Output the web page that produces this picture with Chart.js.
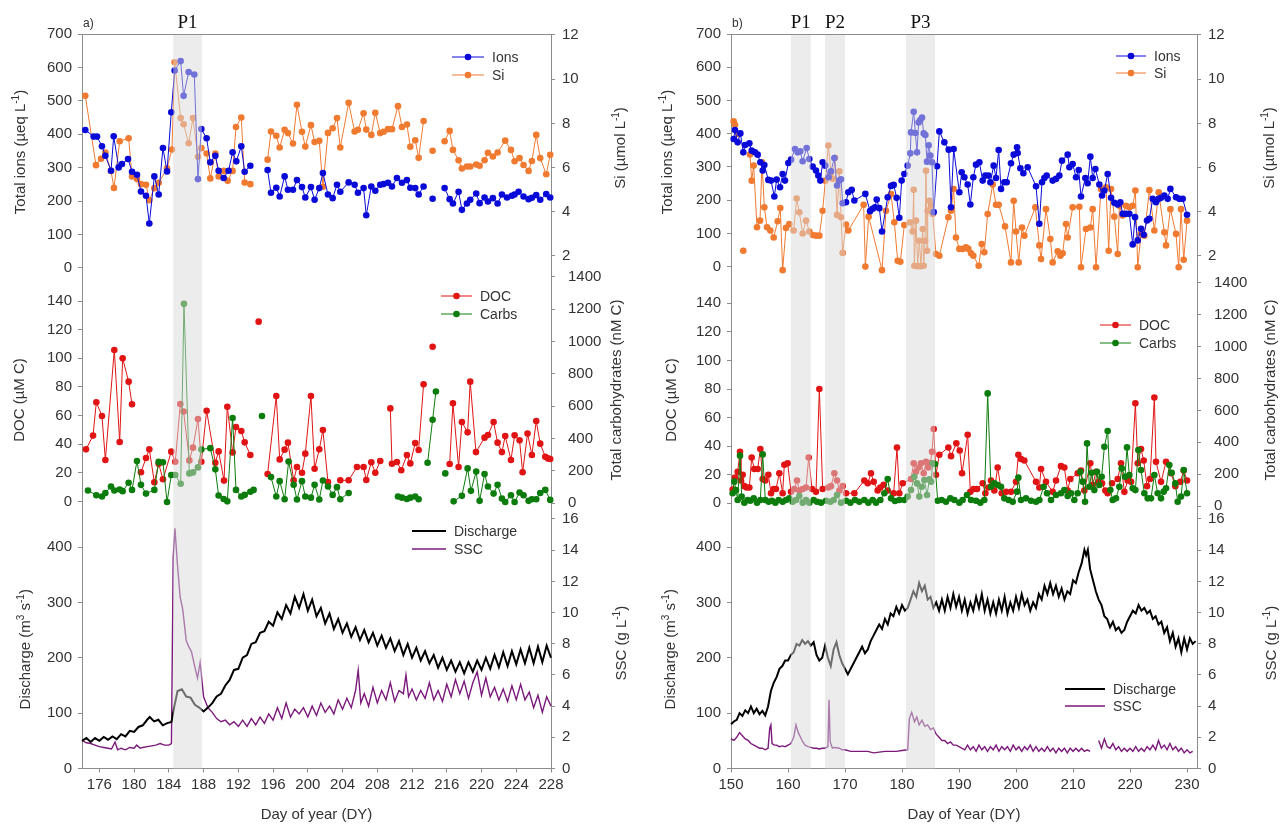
<!DOCTYPE html>
<html>
<head>
<meta charset="utf-8">
<script src="https://cdn.jsdelivr.net/npm/chart.js@4.4.1/dist/chart.umd.min.js"></script>
<style>
  body { margin: 0; background: #fff; width: 1284px; height: 828px; overflow: hidden; position: relative; }
  .panel { position: absolute; top: 0; height: 828px; }
</style>
</head>
<body>
<div class="panel" style="left:0;width:645px"><canvas id="chartA"></canvas></div>
<div class="panel" style="left:645px;width:639px"><canvas id="chartB"></canvas></div>
<script>
// ---- tick labels ----
const ionTicks = [0, 100, 200, 300, 400, 500, 600, 700];
const docTicks = [0, 20, 40, 60, 80, 100, 120, 140];
const qTicks = [0, 100, 200, 300, 400];
const siTicks = [2, 4, 6, 8, 10, 12];
const carbTicks = [0, 200, 400, 600, 800, 1000, 1200, 1400];
const sscTicks = [0, 2, 4, 6, 8, 10, 12, 14, 16];
const dayTicksA = [176, 180, 184, 188, 192, 196, 200, 204, 208, 212, 216, 220, 224, 228];
const dayTicksB = [150, 160, 170, 180, 190, 200, 210, 220, 230];

// ---- shaded periods ----
const bandsA = [[184.5, 187.8]];
const bandNamesA = ['P1'];
const bandsB = [[160.5, 164.0], [166.5, 170.0], [180.7, 185.8]];
const bandNamesB = ['P1', 'P2', 'P3'];

// ---- panel a: [day, value] ----
const ionsA = [[174.38,413],[175.34,393],[175.73,393],[176.30,364],[176.69,336],[177.34,291],[177.65,394],[178.22,301],[178.60,311],[179.30,326],[179.76,288],[180.33,279],[180.79,229],[181.37,216],[181.75,133],[182.33,274],[182.83,220],[183.32,359],[183.79,289],[184.28,466],[184.67,591],[185.36,619],[185.70,515],[186.28,586],[186.93,579],[187.35,266],[187.74,416],[188.35,388],[188.77,316],[189.35,336],[189.73,291],[190.31,269],[190.88,291],[191.34,346],[191.77,319],[192.34,364],[192.73,288],[193.38,306],[194.4,null],
  [195.37,293],[195.76,225],[196.37,240],[196.76,214],[197.33,274],[197.71,234],[198.29,234],[198.75,263],[199.33,242],[199.71,211],[200.36,242],[200.78,204],[201.32,239],[201.74,284],[202.32,220],[202.86,209],[203.36,249],[203.74,228],[204.70,256],[205.39,249],[205.77,225],[206.42,239],[206.73,158],[207.31,244],[207.77,231],[208.34,249],[208.73,251],[209.23,255],[209.69,244],[210.26,269],[210.84,255],[211.41,263],[211.80,240],[212.37,239],[212.76,220],[213.33,244],[213.8,null],
  [214.37,207],[215.0,null],
  [215.75,239],[216.33,206],[216.71,193],[217.36,228],[217.74,174],[218.32,193],[218.70,204],[219.39,223],[219.78,194],[220.35,211],[220.74,199],[221.31,209],[221.85,193],[222.35,220],[222.93,211],[223.50,216],[223.81,220],[224.27,228],[224.84,214],[225.42,206],[225.80,210],[226.30,218],[226.76,204],[227.45,221],[227.91,211]];
const siA = [[174.38,9.25],[175.61,6.11],[176.19,6.40],[176.69,6.68],[177.34,5.85],[177.68,5.08],[178.34,7.19],[179.37,7.33],[179.76,5.60],[180.33,5.48],[180.79,5.25],[181.37,5.22],[181.75,4.52],[182.33,5.07],[182.83,5.31],[183.79,5.97],[184.36,6.82],[184.67,10.77],[185.36,8.24],[185.70,7.96],[186.28,7.10],[186.78,8.24],[187.35,6.49],[187.74,6.88],[188.35,6.64],[188.77,5.51],[189.35,6.64],[189.73,5.60],[190.31,5.85],[190.77,5.40],[191.34,5.85],[191.73,7.84],[192.34,8.27],[192.73,5.32],[193.38,5.25],[194.4,null],
  [195.37,6.36],[195.76,7.63],[196.37,7.44],[196.76,6.91],[197.33,7.71],[197.71,7.56],[198.29,7.09],[198.75,8.84],[199.33,7.62],[199.71,6.95],[200.36,7.92],[200.78,7.16],[201.32,7.21],[201.74,5.13],[202.32,7.57],[202.86,7.78],[203.36,8.24],[203.74,6.91],[204.70,8.93],[205.39,7.63],[205.77,7.71],[206.42,8.46],[206.73,7.72],[207.31,7.48],[207.77,8.48],[208.34,7.56],[208.73,7.62],[209.23,7.74],[209.69,7.74],[210.38,8.78],[210.84,7.84],[211.41,7.95],[211.80,6.94],[212.37,7.24],[212.76,6.44],[213.33,8.11],[213.8,null],
  [214.37,6.76],[215.0,null],
  [215.75,7.19],[216.33,7.66],[216.71,6.80],[217.36,6.33],[217.74,5.96],[218.32,6.05],[218.70,6.05],[219.39,6.14],[219.78,6.08],[220.35,6.33],[220.74,6.67],[221.31,6.50],[221.85,6.68],[222.73,7.22],[223.39,6.80],[223.81,6.29],[224.38,6.43],[224.84,6.12],[225.42,5.85],[225.80,6.30],[226.30,7.48],[226.76,6.43],[227.45,5.70],[227.91,6.58]];
const docA = [[174.46,36.4],[175.27,46.0],[175.65,69.3],[176.30,59.7],[176.69,29.0],[177.72,105.8],[178.34,41.6],[178.68,100.0],[179.37,83.7],[179.76,67.9],[180.2,null],
  [180.79,20.4],[181.37,30.4],[181.75,36.4],[182.33,13.4],[182.83,26.4],[183.32,15.5],[184.28,34.8],[184.74,27.8],[185.32,68.1],[185.70,62.8],[186.36,28.7],[186.78,37.6],[187.35,57.6],[187.74,27.8],[188.35,63.4],[189.35,27.1],[189.73,35.0],[190.35,14.6],[190.73,66.2],[191.34,34.3],[191.73,52.0],[192.34,49.2],[192.73,41.3],[193.38,32.5],[193.9,null],
  [194.34,125.6],[194.9,null],
  [195.37,19.2],[196.37,73.7],[196.76,29.4],[197.33,36.2],[197.71,41.1],[198.37,14.8],[198.75,24.1],[199.33,20.1],[199.71,33.4],[200.36,73.7],[200.78,22.9],[201.32,36.4],[201.74,49.9],[202.32,13.6],[203.0,null],
  [203.74,14.8],[204.70,14.8],[205.66,24.1],[206.42,24.1],[206.73,15.0],[207.31,27.4],[207.77,20.1],[208.34,28.3],[208.9,null],
  [209.50,65.0],[209.69,26.4],[210.26,27.6],[210.76,21.8],[211.41,32.5],[211.80,26.6],[212.37,40.9],[212.76,36.0],[213.33,81.8],[213.8,null],
  [214.37,108.1],[215.0,null],
  [216.33,26.2],[216.71,68.6],[217.36,24.1],[217.74,55.5],[218.40,48.3],[218.70,83.7],[219.36,34.5],[220.35,44.6],[220.74,46.4],[221.39,55.5],[221.85,41.1],[222.35,34.5],[222.73,45.7],[223.39,29.0],[223.81,46.2],[224.38,42.7],[224.73,20.4],[225.30,47.4],[225.80,32.5],[226.30,56.2],[226.76,40.4],[227.34,31.3],[227.65,30.1],[227.91,29.7]];
const carbsA = [[174.69,79],[175.65,50],[176.30,42],[176.69,64],[177.34,104],[177.72,79],[178.34,85],[178.68,75],[179.37,127],[179.76,83],[180.33,262],[180.79,114],[181.37,60],[182.33,83],[182.83,256],[183.32,254],[183.79,8],[184.28,175],[184.74,175],[185.36,121],[185.74,1234],[186.36,185],[186.78,191],[187.35,222],[187.74,333],[188.77,341],[189.35,210],[189.73,48],[190.31,27],[190.73,12],[191.34,528],[191.73,83],[192.34,42],[192.73,52],[193.38,71],[193.76,83],[194.2,null],
  [194.72,540],[195.3,null],
  [195.76,162],[196.37,42],[196.76,137],[197.33,25],[197.79,258],[198.37,114],[198.75,23],[199.33,137],[199.71,42],[200.36,35],[200.78,114],[201.32,23],[201.74,141],[202.32,104],[202.86,52],[203.36,100],[203.74,25],[204.70,64],[207.0,null],
  [210.38,42],[210.84,35],[211.41,27],[211.80,35],[212.37,42],[212.76,25],[213.2,null],
  [213.79,251],[214.37,517],[214.75,692],[215.3,null],
  [215.83,185],[216.3,null],
  [216.79,12],[217.74,46],[218.40,216],[218.78,77],[219.39,197],[219.78,15],[220.35,181],[220.74,104],[221.39,60],[221.85,114],[222.35,29],[222.73,8],[223.39,50],[223.81,8],[224.38,67],[224.84,50],[225.42,15],[225.80,25],[226.30,25],[226.76,64],[227.34,83],[227.91,21]];
const dischargeA = [[174.0,50],[174.5,55],[175.0,48],[175.5,55],[176.0,50],[176.5,57],[177.0,52],[177.5,58],[178.0,53],[178.5,62],[179.0,58],[179.5,68],[180.0,66],[180.5,75],[181.0,78],[181.5,88],[181.8,93],[182.3,85],[182.8,88],[183.3,78],[183.8,82],[184.3,84],[184.6,110],[185.0,140],[185.5,143],[186.0,130],[186.5,128],[187.0,115],[187.5,110],[188.0,103],[188.5,110],[189.0,118],[189.5,130],[190.0,135],[190.5,150],[191.0,160],[191.5,178],[192.0,180],[192.5,200],[193.0,205],[193.5,225],[194.0,228],[194.5,245],[195.0,248],[195.5,265],[196.0,258],[196.5,282],[197.0,270],[197.5,295],[198.0,280],[198.5,310],[199.0,290],[199.5,315],[200.0,285],[200.5,305],[201.0,275],[201.5,290],[202.0,262],[202.5,280],[203.0,252],[203.5,270],[204.0,245],[204.5,262],[205.0,238],[205.5,255],[206.0,232],[206.5,250],[207.0,228],[207.5,245],[208.0,222],[208.5,240],[209.0,218],[209.5,235],[210.0,212],[210.5,230],[211.0,205],[211.5,225],[212.0,200],[212.5,218],[213.0,195],[213.5,212],[214.0,190],[214.5,205],[215.0,182],[215.5,200],[216.0,178],[216.5,195],[217.0,175],[217.5,192],[218.0,172],[218.5,192],[219.0,175],[219.5,195],[220.0,178],[220.5,200],[221.0,180],[221.5,205],[222.0,183],[222.5,210],[223.0,185],[223.5,212],[224.0,188],[224.5,215],[225.0,190],[225.5,218],[226.0,190],[226.5,220],[227.0,192],[227.5,222],[228.0,200]];
const sscA = [[174.0,1.8],[174.5,1.65],[175.0,1.6],[175.5,1.5],[176.0,1.4],[176.5,1.35],[177.0,1.3],[177.4,1.25],[177.8,1.7],[178.1,1.2],[178.5,1.3],[179.0,1.2],[179.5,1.35],[180.0,1.3],[180.3,1.5],[180.7,1.3],[181.0,1.35],[181.5,1.4],[182.0,1.45],[182.5,1.5],[183.0,1.6],[183.5,1.5],[184.0,1.5],[184.3,1.6],[184.5,13.5],[184.7,15.4],[185.0,13.0],[185.3,11.0],[185.6,10.2],[186.0,8.2],[186.3,7.8],[186.6,7.5],[187.0,6.5],[187.3,5.8],[187.6,6.8],[188.0,4.6],[188.5,3.9],[189.0,3.6],[189.5,3.2],[190.0,3.0],[190.5,3.1],[191.0,2.8],[191.5,3.0],[192.0,2.7],[192.5,3.1],[193.0,2.7],[193.5,3.2],[194.0,2.8],[194.5,3.3],[195.0,2.9],[195.5,3.5],[196.0,3.1],[196.5,3.9],[197.0,3.2],[197.5,4.2],[198.0,3.3],[198.5,3.8],[199.0,3.5],[199.5,3.9],[200.0,3.3],[200.5,4.0],[201.0,3.4],[201.5,4.2],[202.0,3.6],[202.5,4.0],[203.0,3.5],[203.5,4.4],[204.0,3.8],[204.5,4.5],[205.0,3.9],[205.5,5.0],[205.8,6.3],[206.1,4.2],[206.5,4.8],[207.0,4.0],[207.5,5.2],[208.0,4.2],[208.5,5.0],[209.0,4.4],[209.5,5.5],[210.0,4.3],[210.5,5.0],[211.0,4.8],[211.3,6.0],[211.6,4.6],[212.0,5.1],[212.5,4.4],[213.0,5.0],[213.5,4.5],[214.0,5.5],[214.5,4.4],[215.0,5.0],[215.5,4.3],[216.0,5.4],[216.5,4.6],[217.0,5.7],[217.5,4.8],[218.0,5.6],[218.5,4.5],[219.0,5.5],[219.5,6.2],[220.0,4.7],[220.5,5.8],[221.0,4.6],[221.5,5.2],[222.0,4.4],[222.5,5.1],[223.0,4.3],[223.5,5.3],[224.0,4.4],[224.5,5.4],[225.0,4.4],[225.5,4.9],[226.0,3.9],[226.5,4.7],[227.0,3.6],[227.5,4.6],[228.0,4.0]];

// ---- panel b: [day, value] ----
const ionsB = [[150.47,384],[150.70,411],[151.17,374],[151.64,401],[152.16,344],[152.46,366],[153.22,371],[153.63,349],[154.21,344],[154.68,337],[155.15,314],[155.56,289],[155.85,306],[156.55,261],[157.02,259],[157.60,211],[158.01,262],[158.60,239],[159.06,279],[159.47,259],[160.06,312],[160.53,322],[161.23,354],[161.70,344],[162.16,347],[162.57,317],[163.27,357],[163.74,324],[164.33,301],[164.91,289],[165.32,274],[165.67,259],[166.08,314],[166.55,304],[167.13,269],[167.54,287],[168.13,327],[168.60,244],[169.01,259],[169.30,263],[169.59,191],[170.18,194],[170.58,224],[171.17,231],[171.64,199],[173.57,219],[174.39,167],[174.85,174],[175.26,179],[175.56,202],[176.02,176],[176.49,106],[177.49,209],[178.07,243],[178.54,246],[179.06,207],[179.53,147],[179.94,259],[180.41,279],[180.99,304],[181.46,341],[181.58,404],[182.05,466],[182.34,402],[182.63,344],[182.92,434],[183.22,441],[183.51,449],[183.80,401],[184.09,396],[184.39,316],[184.68,365],[184.97,334],[185.26,314],[185.56,164],[186.14,302],[186.55,407],[187.43,374],[188.19,352],[188.60,179],[189.06,354],[190.06,224],[190.47,284],[190.94,269],[191.52,247],[191.99,187],[192.51,269],[192.98,307],[193.57,314],[194.15,259],[194.62,274],[195.15,274],[195.50,254],[196.08,304],[196.49,267],[196.96,351],[197.37,234],[197.95,254],[198.36,254],[199.12,311],[199.59,337],[200.18,359],[200.29,342],[200.76,296],[201.29,281],[202.05,299],[203.51,242],[204.09,129],[204.56,254],[204.97,267],[205.38,274],[206.43,259],[207.02,264],[207.60,274],[208.07,319],[209.06,337],[209.36,299],[209.94,309],[210.53,269],[211.00,291],[211.40,211],[212.16,267],[212.57,251],[213.04,331],[213.45,267],[213.92,294],[214.62,247],[215.09,214],[215.50,229],[216.08,279],[216.67,207],[217.25,192],[217.84,187],[218.30,194],[218.71,159],[219.30,159],[219.88,159],[220.47,67],[220.88,149],[221.35,79],[221.93,114],[222.40,96],[222.98,139],[223.39,144],[223.98,204],[224.56,194],[225.03,204],[225.44,207],[226.02,214],[226.61,204],[227.08,234],[228.07,209],[228.65,204],[229.24,204],[230.00,156]];
const siB = [[150.47,8.09],[150.70,7.94],[151.29,7.52],[151.8,null],[152.16,2.24],[152.7,null],[153.33,6.59],[153.63,5.41],[153.98,6.09],[154.56,3.30],[155.09,3.60],[155.44,6.24],[155.85,4.20],[156.32,3.30],[156.90,3.15],[157.49,2.84],[158.19,3.57],[158.65,4.17],[159.06,1.36],[159.65,3.27],[160.23,3.44],[160.99,3.15],[161.52,4.60],[161.99,3.98],[162.57,3.02],[163.16,3.60],[163.74,3.11],[164.33,2.95],[164.91,2.92],[165.50,2.92],[166.08,4.05],[166.55,5.41],[167.08,7.00],[167.54,5.79],[167.84,5.49],[168.25,6.44],[168.60,3.86],[169.01,5.83],[169.30,3.75],[169.59,2.14],[170.18,3.42],[170.58,3.15],[173.27,4.32],[173.57,1.52],[174.15,3.78],[176.49,1.36],[177.19,4.05],[178.07,4.80],[178.65,3.53],[179.24,1.78],[179.71,1.74],[180.41,3.40],[181.40,3.53],[181.87,3.11],[182.05,5.00],[182.16,1.56],[182.46,3.60],[182.75,1.54],[183.04,2.69],[183.33,1.54],[183.63,3.22],[183.80,1.56],[184.04,2.69],[184.21,5.86],[184.39,2.24],[184.50,4.05],[184.80,4.50],[185.09,4.27],[185.38,3.90],[185.96,2.09],[186.55,2.01],[188.13,3.75],[188.60,4.05],[189.06,5.03],[189.47,2.84],[190.06,2.32],[190.64,2.32],[191.23,2.39],[191.64,2.32],[192.11,2.12],[192.51,2.01],[193.45,1.56],[193.98,2.54],[194.44,2.17],[195.03,3.90],[195.91,5.23],[196.49,4.32],[196.96,4.32],[198.07,3.34],[199.12,1.71],[199.59,4.50],[200.00,3.11],[200.47,1.71],[201.05,3.29],[201.46,2.92],[203.39,4.20],[204.09,2.48],[204.39,1.86],[205.26,4.12],[206.02,2.77],[206.43,1.71],[207.31,2.21],[207.78,2.01],[208.19,2.12],[208.77,3.45],[209.06,2.84],[209.94,4.20],[211.11,4.23],[211.40,1.49],[212.28,3.22],[213.04,3.29],[213.45,4.12],[214.04,1.49],[214.91,5.03],[215.79,5.11],[216.26,2.24],[216.67,5.03],[217.25,3.78],[217.84,2.09],[218.13,4.27],[218.71,3.83],[219.30,4.27],[219.88,4.20],[220.47,4.27],[220.94,4.96],[221.35,1.49],[221.93,3.02],[222.51,2.92],[223.39,4.98],[224.27,3.15],[225.03,4.88],[226.02,3.07],[226.32,2.48],[227.08,4.12],[228.07,3.00],[228.54,1.49],[228.95,4.12],[229.42,1.83],[230.00,3.60]];
const docB = [[150.29,9.6],[150.70,18],[151.17,22],[151.58,36],[151.75,16],[152.05,20],[152.34,12],[152.75,11],[153.22,11],[153.63,32],[154.09,24],[154.68,24],[155.15,38],[155.56,17],[156.02,16],[156.55,20],[157.02,7],[157.49,10],[157.89,10],[158.48,21],[159.06,7],[159.36,27],[159.94,28],[160.53,8],[161.11,10],[161.58,16],[161.99,9],[162.57,10],[163.16,11],[163.63,32],[164.21,10],[164.91,8],[165.50,80],[166.08,10],[167.08,11],[167.54,12],[168.13,21],[168.60,16],[169.01,9],[169.59,12],[170.18,7],[171.64,7],[173.39,16],[173.98,14],[174.56,21],[175.03,15],[175.73,9],[176.20,11],[176.78,13],[177.49,9],[178.54,7],[179.12,39],[179.53,7],[180.12,14],[181.58,17],[182.05,28],[182.46,22],[182.92,25],[183.33,28],[183.80,21],[184.21,29],[184.62,25],[184.97,28],[185.26,36],[185.56,52],[185.96,20],[186.55,34],[188.13,39],[188.60,33],[189.53,42],[190.12,37],[190.53,21],[191.52,48],[191.99,8],[192.57,10],[193.16,10],[194.15,14],[194.62,7],[195.15,11],[195.61,16],[196.20,9],[196.78,25],[197.49,7],[198.25,8],[199.12,8],[200.00,15],[200.41,34],[200.88,31],[201.46,30],[203.51,15],[204.09,11],[204.39,24],[205.26,15],[206.43,8],[207.02,16],[207.89,26],[208.48,25],[209.06,9],[209.53,17],[210.82,21],[211.40,23],[211.99,9],[213.04,28],[213.45,13],[214.04,22],[214.50,15],[215.09,14],[215.67,9],[216.08,7],[216.84,14],[217.84,17],[218.42,28],[219.01,8],[219.59,16],[220.18,15],[220.94,70],[221.35,28],[221.93,38],[222.40,30],[222.98,12],[223.51,17],[224.27,74],[224.56,29],[225.44,15],[226.32,29],[227.19,21],[227.95,12],[228.83,15],[229.42,23],[230.00,16]];
const carbsB = [[150.29,80],[150.58,153],[150.88,100],[151.17,38],[151.58,316],[151.87,59],[152.34,21],[152.92,38],[153.39,33],[153.98,48],[154.56,21],[155.15,38],[155.56,324],[156.02,38],[156.61,27],[157.19,33],[157.78,21],[158.36,38],[159.06,27],[159.65,38],[160.23,48],[160.82,27],[161.40,38],[161.99,63],[162.57,21],[163.16,38],[163.74,21],[164.50,38],[165.09,27],[165.79,21],[166.67,33],[167.43,27],[168.01,38],[168.60,69],[169.30,21],[170.18,33],[170.94,21],[171.75,38],[172.51,27],[173.39,38],[174.09,21],[174.85,38],[175.44,21],[176.20,38],[176.90,80],[177.49,169],[178.07,48],[178.77,31],[179.53,38],[180.41,38],[180.99,59],[181.58,100],[182.16,184],[182.63,142],[183.04,59],[183.45,121],[183.92,163],[184.39,69],[184.80,167],[185.09,153],[185.38,268],[185.79,264],[186.26,33],[186.96,38],[187.72,27],[188.48,48],[189.18,38],[190.06,21],[190.64,38],[191.40,69],[192.11,38],[192.98,33],[193.74,21],[194.44,38],[195.03,707],[195.61,121],[196.20,142],[196.78,132],[197.37,121],[197.95,48],[198.71,38],[199.42,27],[200.18,90],[200.41,178],[200.88,38],[201.75,48],[202.63,33],[203.51,27],[204.09,38],[204.85,121],[205.44,80],[206.14,38],[207.02,69],[207.89,80],[208.48,100],[209.06,63],[209.65,80],[210.23,38],[210.82,80],[211.29,215],[211.70,153],[212.11,27],[212.46,393],[212.87,121],[213.27,209],[213.74,100],[214.21,215],[214.62,132],[215.03,184],[215.50,372],[216.08,471],[216.55,100],[216.96,38],[217.54,48],[218.13,121],[218.54,236],[219.12,184],[219.47,368],[219.88,195],[220.47,111],[220.94,100],[221.46,351],[221.93,226],[222.51,80],[223.10,48],[223.68,48],[224.27,195],[224.85,80],[225.44,48],[225.91,90],[226.32,111],[226.90,257],[227.31,209],[227.95,142],[228.36,27],[228.95,59],[229.42,226],[230.00,80]];
const dischargeB = [[150.0,80],[150.5,85],[151.0,88],[151.5,100],[152.0,95],[152.5,105],[153.0,100],[153.5,112],[154.0,100],[154.5,108],[155.0,98],[155.5,104],[156.0,96],[156.5,112],[157.0,140],[157.5,155],[158.0,165],[158.5,180],[159.0,185],[159.5,195],[160.0,195],[160.5,205],[161.0,210],[161.5,225],[162.0,222],[162.5,232],[163.0,225],[163.5,230],[164.0,222],[164.5,228],[165.0,205],[165.5,195],[166.0,200],[166.5,222],[167.0,200],[167.5,185],[168.0,215],[168.5,228],[169.0,205],[169.5,190],[170.0,180],[170.5,170],[171.0,180],[171.5,190],[172.0,200],[172.5,210],[173.0,220],[173.5,208],[174.0,215],[174.5,230],[175.0,240],[175.5,250],[176.0,260],[176.5,252],[177.0,270],[177.5,260],[178.0,280],[178.5,275],[179.0,292],[179.5,280],[180.0,295],[180.5,285],[181.0,290],[181.5,305],[182.0,320],[182.5,310],[183.0,335],[183.5,320],[184.0,330],[184.5,305],[185.0,310],[185.5,290],[186.0,300],[186.5,285],[187.0,305],[187.5,285],[188.0,310],[188.5,290],[189.0,315],[189.5,292],[190.0,310],[190.5,285],[191.0,305],[191.5,280],[192.0,300],[192.5,285],[193.0,310],[193.5,290],[194.0,315],[194.5,285],[195.0,305],[195.5,280],[196.0,300],[196.5,280],[197.0,305],[197.5,285],[198.0,310],[198.5,280],[199.0,300],[199.5,285],[200.0,310],[200.5,290],[201.0,315],[201.5,295],[202.0,305],[202.5,285],[203.0,300],[203.5,290],[204.0,315],[204.5,305],[205.0,330],[205.5,315],[206.0,335],[206.5,315],[207.0,330],[207.5,310],[208.0,325],[208.5,305],[209.0,320],[209.5,315],[210.0,340],[210.5,335],[211.0,355],[211.5,370],[212.0,395],[212.3,385],[212.6,395],[213.0,360],[213.5,340],[214.0,320],[214.5,305],[215.0,295],[215.5,275],[216.0,270],[216.5,255],[217.0,265],[217.5,250],[218.0,255],[218.5,245],[219.0,250],[219.5,265],[220.0,275],[220.5,285],[221.0,280],[221.5,295],[222.0,285],[222.5,290],[223.0,280],[223.5,285],[224.0,270],[224.5,275],[225.0,260],[225.5,265],[226.0,245],[226.5,255],[227.0,230],[227.5,245],[228.0,220],[228.5,235],[229.0,210],[229.5,235],[230.0,215],[230.5,235],[231.0,225],[231.5,230]];
const sscB = [[150.0,1.9],[150.5,1.8],[151.0,2.0],[151.5,2.3],[152.0,2.1],[152.5,1.9],[153.0,1.8],[153.5,1.6],[154.0,1.5],[154.5,1.4],[155.0,1.3],[155.5,1.3],[156.0,1.2],[156.5,1.3],[156.8,2.6],[157.0,2.8],[157.2,1.6],[157.6,1.5],[158.0,1.5],[158.5,1.4],[159.0,1.45],[159.5,1.4],[160.0,1.5],[160.5,1.6],[161.0,2.0],[161.4,2.8],[161.8,2.3],[162.2,2.0],[162.6,1.7],[163.0,1.5],[163.5,1.4],[164.0,1.35],[164.5,1.3],[165.0,1.3],[165.5,1.25],[166.0,1.3],[166.5,1.3],[167.0,1.4],[167.2,4.4],[167.4,1.7],[167.8,1.3],[168.2,1.35],[169.0,1.3],[169.5,1.2],[170.0,1.2],[171.0,1.1],[172.0,1.1],[173.0,1.1],[174.0,1.1],[175.0,1.0],[176.0,1.05],[177.0,1.1],[178.0,1.1],[179.0,1.1],[180.0,1.15],[181.0,1.2],[181.3,3.2],[181.7,3.6],[182.2,3.0],[182.6,3.3],[183.0,2.8],[183.5,3.1],[184.0,2.7],[184.5,2.8],[185.0,2.5],[185.5,2.6],[186.0,2.2],[186.5,2.0],[187.0,1.8],[187.5,1.8],[188.0,1.6],[188.5,1.7],[189.0,1.5],[189.5,1.5],[190.0,1.4],[191.0,1.2],[191.5,1.5],[192.0,1.2],[192.5,1.4],[193.0,1.1],[193.5,1.5],[194.0,1.2],[194.5,1.4],[195.0,1.1],[195.5,1.4],[196.0,1.2],[196.5,1.5],[197.0,1.1],[197.5,1.4],[198.0,1.2],[198.5,1.4],[199.0,1.1],[199.5,1.5],[200.0,1.2],[200.5,1.4],[201.0,1.1],[201.5,1.4],[202.0,1.2],[202.5,1.5],[203.0,1.1],[203.5,1.4],[204.0,1.1],[204.5,1.3],[205.0,1.1],[205.5,1.4],[206.0,1.1],[206.5,1.3],[207.0,1.0],[207.5,1.3],[208.0,1.1],[208.5,1.3],[209.0,1.0],[209.5,1.3],[210.0,1.1],[210.5,1.3],[211.0,1.1],[211.5,1.3],[212.0,1.1],[212.5,1.2],[213.0,1.1],[213.8,null],[214.5,1.8],[215.0,1.3],[215.5,1.9],[216.0,1.4],[216.5,1.3],[217.0,1.6],[217.5,1.2],[218.0,1.4],[218.5,1.1],[219.0,1.3],[219.5,1.1],[220.0,1.3],[220.5,1.1],[221.0,1.4],[221.5,1.1],[222.0,1.3],[222.5,1.1],[223.0,1.4],[223.5,1.2],[224.0,1.5],[224.5,1.2],[225.0,1.8],[225.5,1.3],[226.0,1.5],[226.5,1.2],[227.0,1.6],[227.5,1.2],[228.0,1.4],[228.5,1.1],[229.0,1.3],[229.5,1.0],[230.0,1.2],[230.5,1.0],[231.0,1.1]];

// ---- look ----
const FONT = "'Liberation Sans', Arial, sans-serif";
const axisColor = '#8c8c8c';
const textColor = '#333333';
const colIons = '#0a0ad8', colSi = '#f07a30', colDoc = '#e01414', colCarbs = '#0c7c0c';
const colQ = '#000000', colSsc = '#7b1a7b';

function scatterLine(pts, color, axis, label) {
  return {
    label, yAxisID: axis, xAxisID: 'x', clip: false,
    data: pts.map(p => ({x: p[0], y: p[1]})),
    borderColor: color, backgroundColor: color,
    pointBackgroundColor: color, pointBorderColor: color,
    pointRadius: 3.3, pointBorderWidth: 0, borderWidth: 1,
    showLine: true, spanGaps: false, tension: 0
  };
}
function plainLine(pts, color, width, axis, label) {
  return {
    label, yAxisID: axis, xAxisID: 'x', clip: false,
    data: pts.map(p => ({x: p[0], y: p[1]})),
    borderColor: color, backgroundColor: color,
    pointRadius: 0, borderWidth: width, spanGaps: false, tension: 0
  };
}

function yAxis(pos, order, share, min, max, ticks, width, pad) {
  return {
    type: 'linear', position: pos, stack: pos, stackWeight: share, weight: order,
    min, max,
    afterBuildTicks: s => { s.ticks = ticks.map(v => ({value: v})); },
    afterFit: s => { s.width = width; },
    border: {display: true, color: axisColor, width: 1},
    grid: {display: true, drawOnChartArea: false, drawTicks: true, tickLength: 4, tickColor: axisColor},
    ticks: {autoSkip: false, padding: pad, color: textColor, font: {family: FONT, size: 15}, callback: v => String(v)},
    title: {display: false}
  };
}

function splitSup(str) {
  const out = [];
  const re = /\^\{([^}]*)\}/g;
  let last = 0, m;
  while ((m = re.exec(str))) {
    if (m.index > last) out.push([str.slice(last, m.index), false]);
    out.push([m[1], true]);
    last = re.lastIndex;
  }
  if (last < str.length) out.push([str.slice(last), false]);
  return out;
}

const decor = {
  id: 'decor',
  afterDatasetsDraw(chart, args, o) {
    const {ctx, chartArea: a} = chart;
    const x = chart.scales.x;
    ctx.save();
    ctx.fillStyle = 'rgba(217,217,217,0.5)';
    o.bands.forEach(b => {
      const x0 = x.getPixelForValue(b[0]), x1 = x.getPixelForValue(b[1]);
      ctx.fillRect(x0, a.top, x1 - x0, a.bottom - a.top);
    });
    ctx.restore();
  },
  afterDraw(chart, args, o) {
    const {ctx, chartArea: a} = chart;
    const x = chart.scales.x;
    ctx.save();
    // top frame line
    ctx.strokeStyle = axisColor; ctx.lineWidth = 1;
    ctx.beginPath(); ctx.moveTo(a.left, a.top + 0.5); ctx.lineTo(a.right, a.top + 0.5); ctx.stroke();
    // period labels
    ctx.fillStyle = '#111'; ctx.font = "19px 'Liberation Serif', 'Times New Roman', serif";
    ctx.textAlign = 'center'; ctx.textBaseline = 'alphabetic';
    o.bands.forEach((b, i) => {
      ctx.fillText(o.bandNames[i], (x.getPixelForValue(b[0]) + x.getPixelForValue(b[1])) / 2, 28);
    });
    // panel letter
    ctx.font = '12px ' + FONT; ctx.textAlign = 'left'; ctx.fillStyle = textColor;
    ctx.fillText(o.letter, a.left + 1, 27);
    // axis titles, rotated
    o.titles.forEach(t => {
      const s = chart.scales[t.axis];
      const parts = splitSup(t.text);
      const norm = '15px ' + FONT, sup = '10px ' + FONT;
      let w = 0;
      parts.forEach(([txt, isSup]) => { ctx.font = isSup ? sup : norm; w += ctx.measureText(txt).width; });
      ctx.save();
      ctx.translate(t.x, (s.top + s.bottom) / 2);
      ctx.rotate(-Math.PI / 2);
      ctx.textBaseline = 'middle'; ctx.textAlign = 'left'; ctx.fillStyle = textColor;
      let cx = -w / 2;
      parts.forEach(([txt, isSup]) => {
        ctx.font = isSup ? sup : norm;
        ctx.fillText(txt, cx, isSup ? -5 : 0);
        cx += ctx.measureText(txt).width;
      });
      ctx.restore();
    });
    // legends
    o.legends.forEach(l => {
      const ds = chart.data.datasets[l.dataset];
      ctx.strokeStyle = ds.borderColor; ctx.lineWidth = ds.borderWidth;
      ctx.beginPath(); ctx.moveTo(l.x, l.y); ctx.lineTo(l.x + l.len, l.y); ctx.stroke();
      if (ds.pointRadius > 0) {
        ctx.fillStyle = ds.pointBackgroundColor;
        ctx.beginPath(); ctx.arc(l.x + l.len / 2, l.y, ds.pointRadius, 0, Math.PI * 2); ctx.fill();
      }
      ctx.fillStyle = textColor; ctx.font = '14px ' + FONT;
      ctx.textAlign = 'left'; ctx.textBaseline = 'middle';
      ctx.fillText(ds.label, l.x + l.len + 8, l.y + 1);
    });
    ctx.restore();
  }
};

function buildPanel(id, p) {
  return new Chart(document.getElementById(id), {
    type: 'line',
    data: {
      datasets: [
        scatterLine(p.ions, colIons, 'yIons', 'Ions'),
        scatterLine(p.si, colSi, 'ySi', 'Si'),
        scatterLine(p.carbs, colCarbs, 'yCarb', 'Carbs'),
        scatterLine(p.doc, colDoc, 'yDoc', 'DOC'),
        plainLine(p.q, colQ, 2, 'yQ', 'Discharge'),
        plainLine(p.ssc, colSsc, 1.4, 'ySsc', 'SSC')
      ]
    },
    options: {
      responsive: true, maintainAspectRatio: false, animation: false,
      layout: {padding: {top: 34, left: 0, right: 0, bottom: 0}},
      plugins: {
        legend: {display: false}, tooltip: {enabled: false},
        decor: {bands: p.bands, bandNames: p.bandNames, letter: p.letter, titles: p.titles, legends: p.legends}
      },
      scales: {
        x: {
          type: 'linear', position: 'bottom', min: p.xMin, max: p.xMax,
          afterBuildTicks: s => { s.ticks = p.xTicks.map(v => ({value: v})); },
          afterFit: s => { s.height = 59.5; },
          border: {display: true, color: axisColor},
          grid: {display: true, drawOnChartArea: false, tickLength: 4, tickColor: axisColor},
          ticks: {autoSkip: false, maxRotation: 0, padding: 3, color: textColor, font: {family: FONT, size: 15}, callback: v => String(v)},
          title: {display: true, text: p.xTitle, color: textColor, font: {family: FONT, size: 15}, padding: {top: 0, bottom: 4}}
        },
        yIons: yAxis('left', 3, 236, p.ionRange[0], p.ionRange[1], ionTicks, p.leftW, 6),
        yDoc: yAxis('left', 2, 260, p.docRange[0], p.docRange[1], docTicks, p.leftW, 6),
        yQ: yAxis('left', 1, 238.5, 0, 430.7, qTicks, p.leftW, 6),
        ySi: yAxis('right', 1, 228, 1.728, 12.045, siTicks, p.rightW, 7),
        yCarb: yAxis('right', 2, 256, p.carbRange[0], p.carbRange[1], carbTicks, p.rightW, 13),
        ySsc: yAxis('right', 3, 250.5, 0, 16.064, sscTicks, p.rightW, 7)
      }
    },
    plugins: [decor]
  });
}

buildPanel('chartA', {
  ions: ionsA, si: siA, doc: docA, carbs: carbsA, q: dischargeA, ssc: sscA,
  xMin: 174, xMax: 228, xTicks: dayTicksA, xTitle: 'Day of year (DY)',
  bands: bandsA, bandNames: bandNamesA, letter: 'a)',
  leftW: 82, rightW: 94,
  ionRange: [-6, 700], docRange: [-19.9, 161.65], carbRange: [-91, 1492.8],
  titles: [
    {axis: 'yIons', text: 'Total ions (µeq L^{-1})', x: 21},
    {axis: 'yDoc', text: 'DOC (µM C)', x: 20},
    {axis: 'yQ', text: 'Discharge (m^{3} s^{-1})', x: 26},
    {axis: 'ySi', text: 'Si (µmol L^{-1})', x: 621},
    {axis: 'yCarb', text: 'Total carbohydrates (nM C)', x: 617},
    {axis: 'ySsc', text: 'SSC (g L^{-1})', x: 622}
  ],
  legends: [
    {dataset: 0, x: 452, y: 57, len: 32},
    {dataset: 1, x: 452, y: 75, len: 32},
    {dataset: 3, x: 441, y: 296, len: 31},
    {dataset: 2, x: 441, y: 314, len: 31},
    {dataset: 4, x: 412, y: 531, len: 34},
    {dataset: 5, x: 412, y: 549, len: 34}
  ]
});

buildPanel('chartB', {
  ions: ionsB, si: siB, doc: docB, carbs: carbsB, q: dischargeB, ssc: sscB,
  xMin: 150, xMax: 231.75, xTicks: dayTicksB, xTitle: 'Day of Year (DY)',
  bands: bandsB, bandNames: bandNamesB, letter: 'b)',
  leftW: 86, rightW: 87,
  ionRange: [-10, 700], docRange: [-18.7, 163.3], carbRange: [-75.3, 1531.8],
  titles: [
    {axis: 'yIons', text: 'Total ions (µeq L^{-1})', x: 23},
    {axis: 'yDoc', text: 'DOC (µM C)', x: 27},
    {axis: 'yQ', text: 'Discharge (m^{3} s^{-1})', x: 26},
    {axis: 'ySi', text: 'Si (µmol L^{-1})', x: 625},
    {axis: 'yCarb', text: 'Total carbohydrates (nM C)', x: 626},
    {axis: 'ySsc', text: 'SSC (g L^{-1})', x: 627}
  ],
  legends: [
    {dataset: 0, x: 471, y: 56, len: 30},
    {dataset: 1, x: 471, y: 73, len: 30},
    {dataset: 3, x: 455, y: 325, len: 31},
    {dataset: 2, x: 455, y: 343, len: 31},
    {dataset: 4, x: 420, y: 689, len: 40},
    {dataset: 5, x: 420, y: 706, len: 40}
  ]
});
</script>
</body>
</html>
